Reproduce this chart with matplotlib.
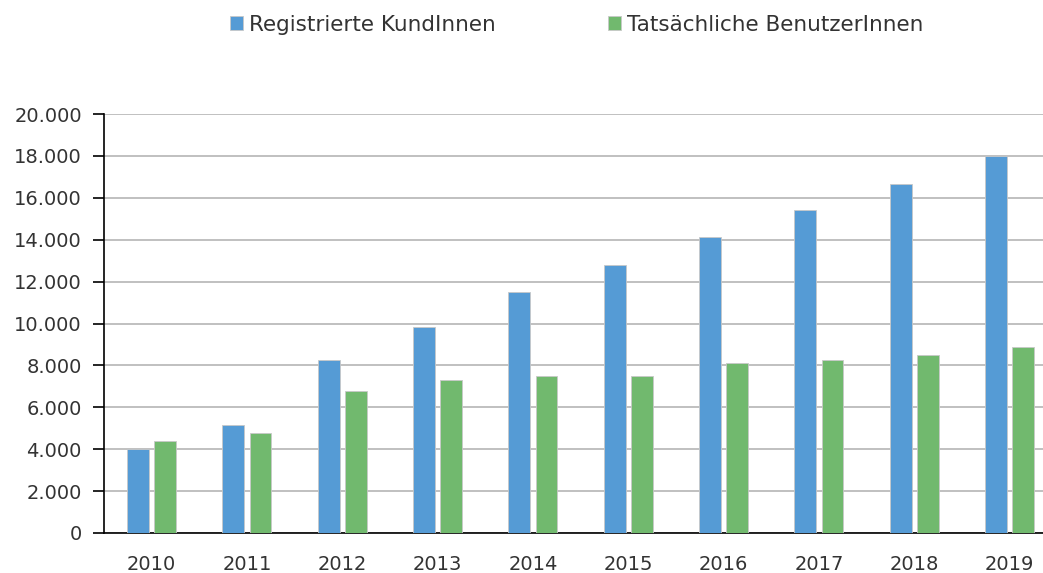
import matplotlib.pyplot as plt
import matplotlib.ticker as mticker
import numpy as np

plt.rcParams['font.family'] = ['DejaVu Sans']

years = ["2010", "2011", "2012", "2013", "2014", "2015", "2016", "2017", "2018", "2019"]
registriert = [4000, 5150, 8250, 9850, 11500, 12800, 14150, 15400, 16650, 18000]
tatsaechlich = [4400, 4760, 6780, 7300, 7500, 7500, 8100, 8250, 8500, 8900]
labels = ["Registrierte KundInnen", "Tatsächliche BenutzerInnen"]

blue = "#559BD5"
green = "#71B96E"

fig = plt.figure(figsize=(10.43, 5.73), dpi=100)
ax = fig.add_axes([104 / 1043, 40 / 573, 939 / 1043, 419 / 573])

x = np.arange(len(years))
w = 0.23
off = 0.142
ax.bar(x - off, registriert, w, color=blue, edgecolor="#C8C8C8", linewidth=0.6,
       label=labels[0], zorder=3)
ax.bar(x + off, tatsaechlich, w, color=green, edgecolor="#C8C8C8", linewidth=0.6,
       label=labels[1], zorder=3)

ax.set_ylim(0, 20000)
ax.set_xlim(-0.5, 9.35)
ax.set_yticks(np.arange(0, 20001, 2000))
ax.yaxis.set_major_formatter(mticker.FuncFormatter(
    lambda v, p: "0" if v == 0 else f"{int(v):,}".replace(",", ".")))
ax.set_xticks(x)
ax.set_xticklabels(years)

ax.grid(axis="y", color="#C0C0C0", linewidth=1.4, zorder=0)
ax.set_axisbelow(True)
for s in ["top", "right"]:
    ax.spines[s].set_visible(False)
ax.spines["left"].set_color("black")
ax.spines["bottom"].set_color("black")
ax.spines["left"].set_linewidth(1.2)
ax.spines["bottom"].set_linewidth(1.2)

ax.tick_params(axis="y", direction="out", length=8, width=1.2, labelsize=14,
               labelcolor="#333333", pad=8)
ax.tick_params(axis="x", length=0, labelsize=14, labelcolor="#333333", pad=16)

fig.legend(loc="upper center", bbox_to_anchor=(0.553, 1.008), ncol=2, frameon=False,
           fontsize=15.5, handlelength=0.6, handleheight=0.6, handletextpad=0.3,
           columnspacing=5.2, labelcolor="#333333")

fig.savefig("out.png", dpi=100)
